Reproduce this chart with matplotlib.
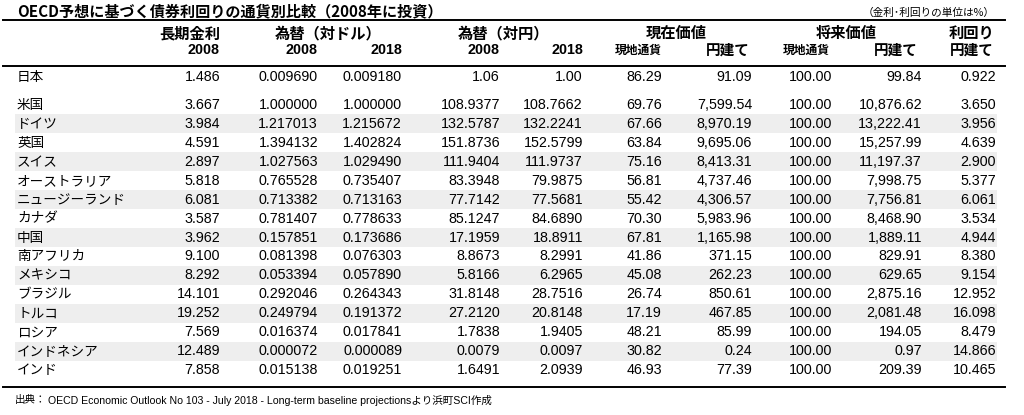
import matplotlib.pyplot as plt
from matplotlib.patches import Rectangle

JP = ["Noto Sans CJK JP", "DejaVu Sans"]
NUM = ["Liberation Sans", "Noto Sans CJK JP"]

# データ
countries = ["日本", "米国", "ドイツ", "英国", "スイス", "オーストラリア", "ニュージーランド",
             "カナダ", "中国", "南アフリカ", "メキシコ", "ブラジル", "トルコ", "ロシア",
             "インドネシア", "インド"]
rate_2008 = ["1.486", "3.667", "3.984", "4.591", "2.897", "5.818", "6.081", "3.587",
             "3.962", "9.100", "8.292", "14.101", "19.252", "7.569", "12.489", "7.858"]
usd_2008 = ["0.009690", "1.000000", "1.217013", "1.394132", "1.027563", "0.765528",
            "0.713382", "0.781407", "0.157851", "0.081398", "0.053394", "0.292046",
            "0.249794", "0.016374", "0.000072", "0.015138"]
usd_2018 = ["0.009180", "1.000000", "1.215672", "1.402824", "1.029490", "0.735407",
            "0.713163", "0.778633", "0.173686", "0.076303", "0.057890", "0.264343",
            "0.191372", "0.017841", "0.000089", "0.019251"]
jpy_2008 = ["1.06", "108.9377", "132.5787", "151.8736", "111.9404", "83.3948", "77.7142",
            "85.1247", "17.1959", "8.8673", "5.8166", "31.8148", "27.2120", "1.7838",
            "0.0079", "1.6491"]
jpy_2018 = ["1.00", "108.7662", "132.2241", "152.5799", "111.9737", "79.9875", "77.5681",
            "84.6890", "18.8911", "8.2991", "6.2965", "28.7516", "20.8148", "1.9405",
            "0.0097", "2.0939"]
pv_local = ["86.29", "69.76", "67.66", "63.84", "75.16", "56.81", "55.42", "70.30",
            "67.81", "41.86", "45.08", "26.74", "17.19", "48.21", "30.82", "46.93"]
pv_jpy = ["91.09", "7,599.54", "8,970.19", "9,695.06", "8,413.31", "4,737.46", "4,306.57",
          "5,983.96", "1,165.98", "371.15", "262.23", "850.61", "467.85", "85.99",
          "0.24", "77.39"]
fv_local = ["100.00"] * 16
fv_jpy = ["99.84", "10,876.62", "13,222.41", "15,257.99", "11,197.37", "7,998.75",
          "7,756.81", "8,468.90", "1,889.11", "829.91", "629.65", "2,875.16", "2,081.48",
          "194.05", "0.97", "209.39"]
yield_jpy = ["0.922", "3.650", "3.956", "4.639", "2.900", "5.377", "6.061", "3.534",
             "4.944", "8.380", "9.154", "12.952", "16.098", "8.479", "14.866", "10.465"]

columns = [rate_2008, usd_2008, usd_2018, jpy_2008, jpy_2018,
           pv_local, pv_jpy, fv_local, fv_jpy, yield_jpy]
col_right = [220, 318, 402, 500, 583, 662, 752, 832, 922, 996]

fig = plt.figure(figsize=(10.24, 4.15), dpi=100)
ax = fig.add_axes([0, 0, 1, 1])
ax.set_xlim(0, 1024)
ax.set_ylim(415, 0)
ax.axis("off")

# タイトル
ax.text(17, 11, "OECD予想に基づく債券利回りの通貨別比較（2008年に投資）",
        family=JP, fontsize=10.9, fontweight="bold", va="center", ha="left")
ax.text(995, 13, "（金利･利回りの単位は%）", family=JP, fontsize=7.7,
        va="center", ha="right")

ax.plot([3, 1005], [20, 20], color="black", lw=1.4)
ax.plot([3, 1005], [66, 66], color="black", lw=1.4)
ax.plot([3, 1005], [387, 387], color="black", lw=1.4)

# ヘッダー
h1 = 33
h2 = 50
ax.text(220, h1, "長期金利", family=JP, fontsize=11, fontweight="bold", ha="right", va="center")
ax.text(275, h1, "為替（対ドル）", family=JP, fontsize=11, fontweight="bold", ha="left", va="center")
ax.text(458, h1, "為替（対円）", family=JP, fontsize=11, fontweight="bold", ha="left", va="center")
ax.text(676, h1, "現在価値", family=JP, fontsize=11, fontweight="bold", ha="center", va="center")
ax.text(846, h1, "将来価値", family=JP, fontsize=11, fontweight="bold", ha="center", va="center")
ax.text(994, h1, "利回り", family=JP, fontsize=11, fontweight="bold", ha="right", va="center")

sub = ["2008", "2008", "2018", "2008", "2018", "現地通貨", "円建て", "現地通貨", "円建て", "円建て"]
sub_right = [220, 318, 402, 500, 583, 662, 750, 830, 918, 994]
for s, x in zip(sub, sub_right):
    size = 8.5 if s == "現地通貨" else (10.3 if s.isdigit() else 10.5)
    fam = NUM if s.isdigit() else JP
    ax.text(x, h2, s, family=fam, fontsize=size, fontweight="bold", ha="right", va="center")

# 行
row_y = [77] + [105 + i * 18.93 for i in range(15)]
for i, (name, y) in enumerate(zip(countries, row_y)):
    if i >= 2 and i % 2 == 0:
        ax.add_patch(Rectangle((15, y - 9.5), 982, 19, color="#eeeeee", lw=0, zorder=0))
    ax.text(17, y, name, family=JP, fontsize=9.8, ha="left", va="center")
    for col, x in zip(columns, col_right):
        ax.text(x, y, col[i], family=NUM, fontsize=10.3, ha="right", va="center")

ax.text(15, 400, "出典：", family=JP, fontsize=7.6, ha="left", va="center")
ax.text(48, 400, "OECD Economic Outlook No 103 - July 2018 - Long-term baseline projectionsより浜町SCI作成",
        family=NUM, fontsize=7.6, ha="left", va="center")

plt.savefig("out.png", dpi=100)
plt.close()
